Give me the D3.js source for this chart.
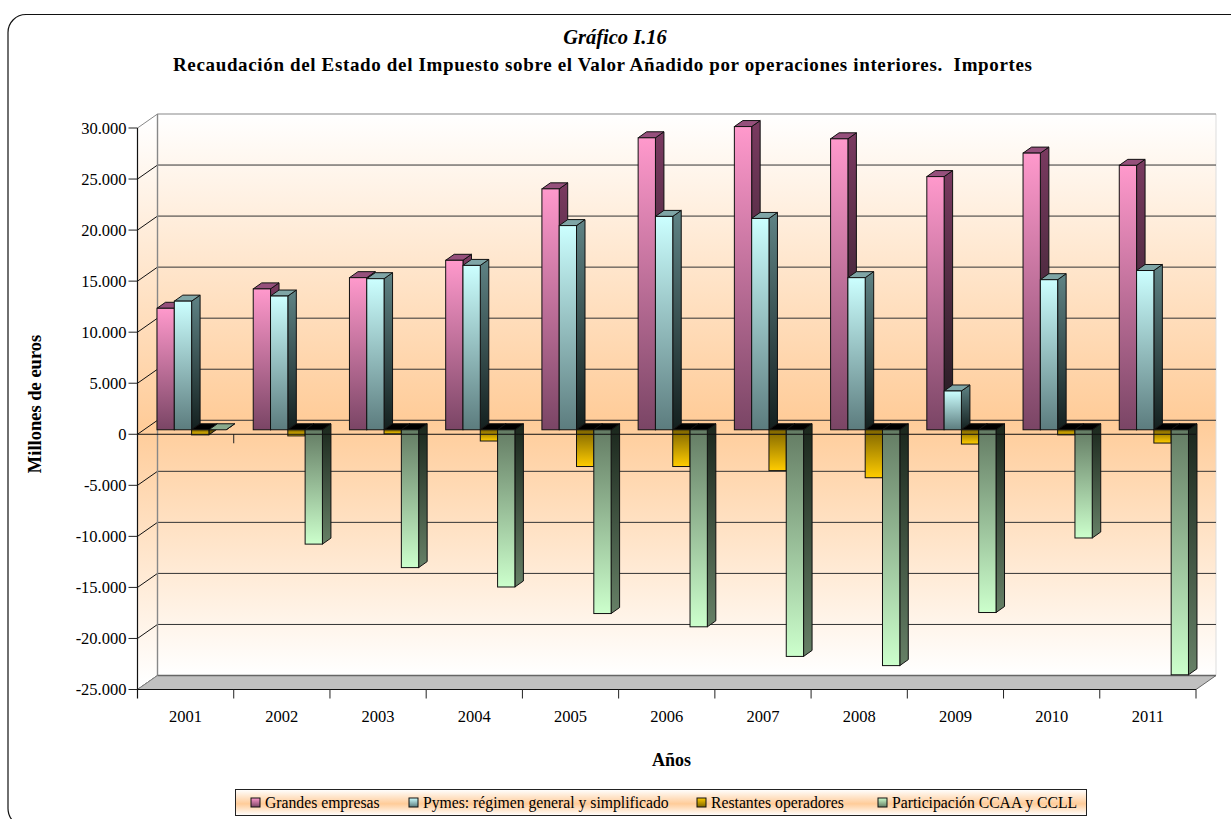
<!DOCTYPE html>
<html><head><meta charset="utf-8">
<script src="https://cdnjs.cloudflare.com/ajax/libs/d3/7.8.5/d3.min.js"></script>
<style>html,body{margin:0;padding:0;background:#fff;overflow:hidden}svg{display:block;font-family:"Liberation Serif",serif}</style>
</head><body><svg id="c" width="1231" height="819"></svg>
<script>
const years=["2001","2002","2003","2004","2005","2006","2007","2008","2009","2010","2011"];
const seriesNames=["Grandes empresas","Pymes: régimen general y simplificado","Restantes operadores","Participación CCAA y CCLL"];
const grandes=[11900,13800,14900,16600,23600,28600,29700,28500,24800,27100,25900];
const pymes=[12600,13100,14800,16100,20000,20900,20700,14900,3800,14700,15600];
const restantes=[-500,-600,-400,-1100,-3600,-3600,-4000,-4700,-1400,-500,-1300];
const participacion=[0,-11200,-13500,-15400,-18000,-19300,-22200,-23100,-17900,-10600,-24000];
const seriesValues=[grandes,pymes,restantes,participacion];
const yTicks=[30000,25000,20000,15000,10000,5000,0,-5000,-10000,-15000,-20000,-25000];
const tickLabel=v=>v===0?"0":(v<0?"-":"")+String(Math.abs(v)/1000)+".000";
const palette=[
 {hi:"#ff99cc",lo:"#7a4565",sideHi:"#7a3a60",sideLo:"#1f1a1e",cap:"#96507c"},
 {hi:"#ccffff",lo:"#5c7c7e",sideHi:"#5f8385",sideLo:"#14201f",cap:"#7fa5a6"},
 {hi:"#ffcc00",lo:"#806600",sideHi:"#806600",sideLo:"#201a00",cap:"#000"},
 {hi:"#ccffcc",lo:"#647c64",sideHi:"#668066",sideLo:"#1a261c",cap:"#8aaa8c"}
];
const svg=d3.select("#c"), defs=svg.append("defs");
const X0=137.5,X1=1196,Y0=689.5,Y1=128,WX=20,WY=-14;
const x=d3.scaleBand().domain(years).range([X0,X1]);
const y=d3.scaleLinear().domain([-25000,30000]).range([Y0,Y1]);
const bw=17.3, inner=d3.scaleBand().domain(d3.range(4)).range([0,bw*4]);
const BX=19.5,BY=-4.5,DX=8.5,DY=-6;

function grad(id,stops,o){
  const g=defs.append("linearGradient").attr("id",id).attr("x1",0).attr("x2",0).attr("y1",0).attr("y2",1);
  if(o){g.attr("gradientUnits","userSpaceOnUse").attr("x1",0).attr("x2",0).attr("y1",o[0]).attr("y2",o[1]);}
  stops.forEach(s=>g.append("stop").attr("offset",s[0]).attr("stop-color",s[1]));
}
grad("wall",[[0,"#fff"],[.545,"#ffcc99"],[1,"#fff"]],[114,675]);
grad("wallL",[[0,"#fff"],[.545,"#ffcc99"],[1,"#fff"]],[121,682]);
grad("leg",[[0,"#fff"],[.55,"#ffcc99"],[1,"#fff"]]);
palette.forEach((p,i)=>{
  grad("fp"+i,[[0,p.hi],[1,p.lo]]); grad("fn"+i,[[0,p.lo],[1,p.hi]]);
  grad("sp"+i,[[0,p.sideHi],[1,p.sideLo]]); grad("sn"+i,[[0,p.sideLo],[1,p.sideHi]]);
});

// frame
svg.append("rect").attr("x",8).attr("y",14.5).attr("width",1300).attr("height",812).attr("rx",18)
  .attr("fill","#fff").attr("stroke","#111").attr("stroke-width",1.2);

// titles
svg.append("text").attr("x",615).attr("y",44).attr("text-anchor","middle").attr("font-size",20.5).attr("font-style","italic").attr("font-weight","bold").text("Gráfico I.16");
svg.append("text").attr("x",173).attr("y",71).attr("font-size",19).attr("font-weight","bold")
  .attr("textLength",859).attr("lengthAdjust","spacing").style("white-space","pre")
  .text("Recaudación del Estado del Impuesto sobre el Valor Añadido por operaciones interiores.  Importes");

// walls
const pts=a=>a.map(d=>d.join(",")).join(" ");
svg.append("polygon").attr("points",pts([[X0+WX,Y1+WY],[X1+WX,Y1+WY],[X1+WX,Y0+WY],[X0+WX,Y0+WY]])).attr("fill","url(#wall)");
svg.append("polygon").attr("points",pts([[X0,Y1],[X0+WX,Y1+WY],[X0+WX,Y0+WY],[X0,Y0]])).attr("fill","url(#wallL)");
svg.append("line").attr("x1",X1+WX).attr("x2",X1+WX).attr("y1",Y1+WY).attr("y2",Y0+WY).attr("stroke","#ddd");

// gridlines
yTicks.forEach(v=>{
  const yy=y(v);
  const top=v===yTicks[0];
  svg.append("line").attr("x1",X0+WX).attr("x2",X1+WX).attr("y1",yy+WY).attr("y2",yy+WY).attr("stroke",top?"#888":"#333").attr("stroke-width",top?1.2:1);
  svg.append("line").attr("x1",X0).attr("x2",X0+WX).attr("y1",yy).attr("y2",yy+WY).attr("stroke",top?"#888":"#111");
});
svg.append("line").attr("x1",X0+WX).attr("x2",X0+WX).attr("y1",Y1+WY).attr("y2",Y0+WY).attr("stroke","#888").attr("stroke-width",1.4);

// floor
svg.append("polygon").attr("points",pts([[X0,Y0],[X1,Y0],[X1+WX,Y0+WY],[X0+WX,Y0+WY]])).attr("fill","#c0c0c0");
svg.append("line").attr("x1",X0+WX).attr("x2",X1+WX).attr("y1",Y0+WY).attr("y2",Y0+WY).attr("stroke","#666").attr("stroke-width",1.3);
svg.append("line").attr("x1",X0).attr("x2",X0+WX).attr("y1",Y0).attr("y2",Y0+WY).attr("stroke","#888");
svg.append("line").attr("x1",X1).attr("x2",X1+WX).attr("y1",Y0).attr("y2",Y0+WY).attr("stroke","#666");

// axis ticks at zero plane (behind bars)
const zero=y(0);
years.slice(1).forEach(t=>svg.append("line").attr("x1",x(t)).attr("x2",x(t)).attr("y1",zero).attr("y2",zero+9).attr("stroke","#222"));

// bars
years.forEach((yr,yi)=>{
  seriesValues.forEach((vals,si)=>{
    const v=vals[yi], p=palette[si];
    const lx=x(yr)+BX+inner(si), rx=lx+bw;
    const by=y(0)+BY, vy=y(v)+BY;
    const top=Math.min(by,vy), bot=Math.max(by,vy);
    const neg=v<0, g=svg.append("g").attr("stroke","#111").attr("stroke-width",1);
    g.append("polygon").attr("points",pts([[rx,top],[rx+DX,top+DY],[rx+DX,bot+DY],[rx,bot]]))
      .attr("fill",`url(#${neg?"sn":"sp"}${si})`);
    g.append("polygon").attr("points",pts([[lx,top],[lx+DX,top+DY],[rx+DX,top+DY],[rx,top]]))
      .attr("fill",neg?"#000":p.cap);
    if(v!==0) g.append("rect").attr("x",lx).attr("y",top).attr("width",bw).attr("height",bot-top)
      .attr("fill",`url(#${neg?"fn":"fp"}${si})`);
  });
});

// front axes
svg.append("line").attr("x1",X0).attr("x2",X0).attr("y1",Y1).attr("y2",Y0+9).attr("stroke","#111").attr("stroke-width",1.2);
svg.append("line").attr("x1",X0).attr("x2",X1).attr("y1",zero).attr("y2",zero).attr("stroke","#111");
svg.append("line").attr("x1",X0).attr("x2",X1).attr("y1",Y0).attr("y2",Y0).attr("stroke","#111").attr("stroke-width",1.2);
years.forEach(t=>{
  const r=x(t)+x.bandwidth();
  svg.append("line").attr("x1",r).attr("x2",r).attr("y1",Y0).attr("y2",Y0+9).attr("stroke","#222");
  svg.append("text").attr("x",x(t)+x.bandwidth()/2).attr("y",722).attr("text-anchor","middle").attr("font-size",16.5).text(t);
});
yTicks.forEach(v=>{
  svg.append("line").attr("x1",X0-9).attr("x2",X0).attr("y1",y(v)).attr("y2",y(v)).attr("stroke","#222");
  svg.append("text").attr("x",X0-11).attr("y",y(v)+5.5).attr("text-anchor","end").attr("font-size",16.5).text(tickLabel(v));
});

// axis titles
svg.append("text").attr("x",671.5).attr("y",765.5).attr("text-anchor","middle").attr("font-size",18).attr("font-weight","bold").text("Años");
svg.append("text").attr("transform","translate(41,404) rotate(-90)").attr("text-anchor","middle").attr("font-size",18.5).attr("font-weight","bold").text("Millones de euros");

// legend
svg.append("rect").attr("x",235.5).attr("y",789.5).attr("width",851).attr("height",26).attr("fill","url(#leg)").attr("stroke","#222");
const legendX=[251,409,697,878];
seriesNames.forEach((n,i)=>{
  svg.append("rect").attr("x",legendX[i]).attr("y",798).attr("width",9).attr("height",9).attr("fill",`url(#fp${i})`).attr("stroke","#111");
  svg.append("text").attr("x",legendX[i]+14).attr("y",808).attr("font-size",15.7).text(n);
});
</script></body></html>
